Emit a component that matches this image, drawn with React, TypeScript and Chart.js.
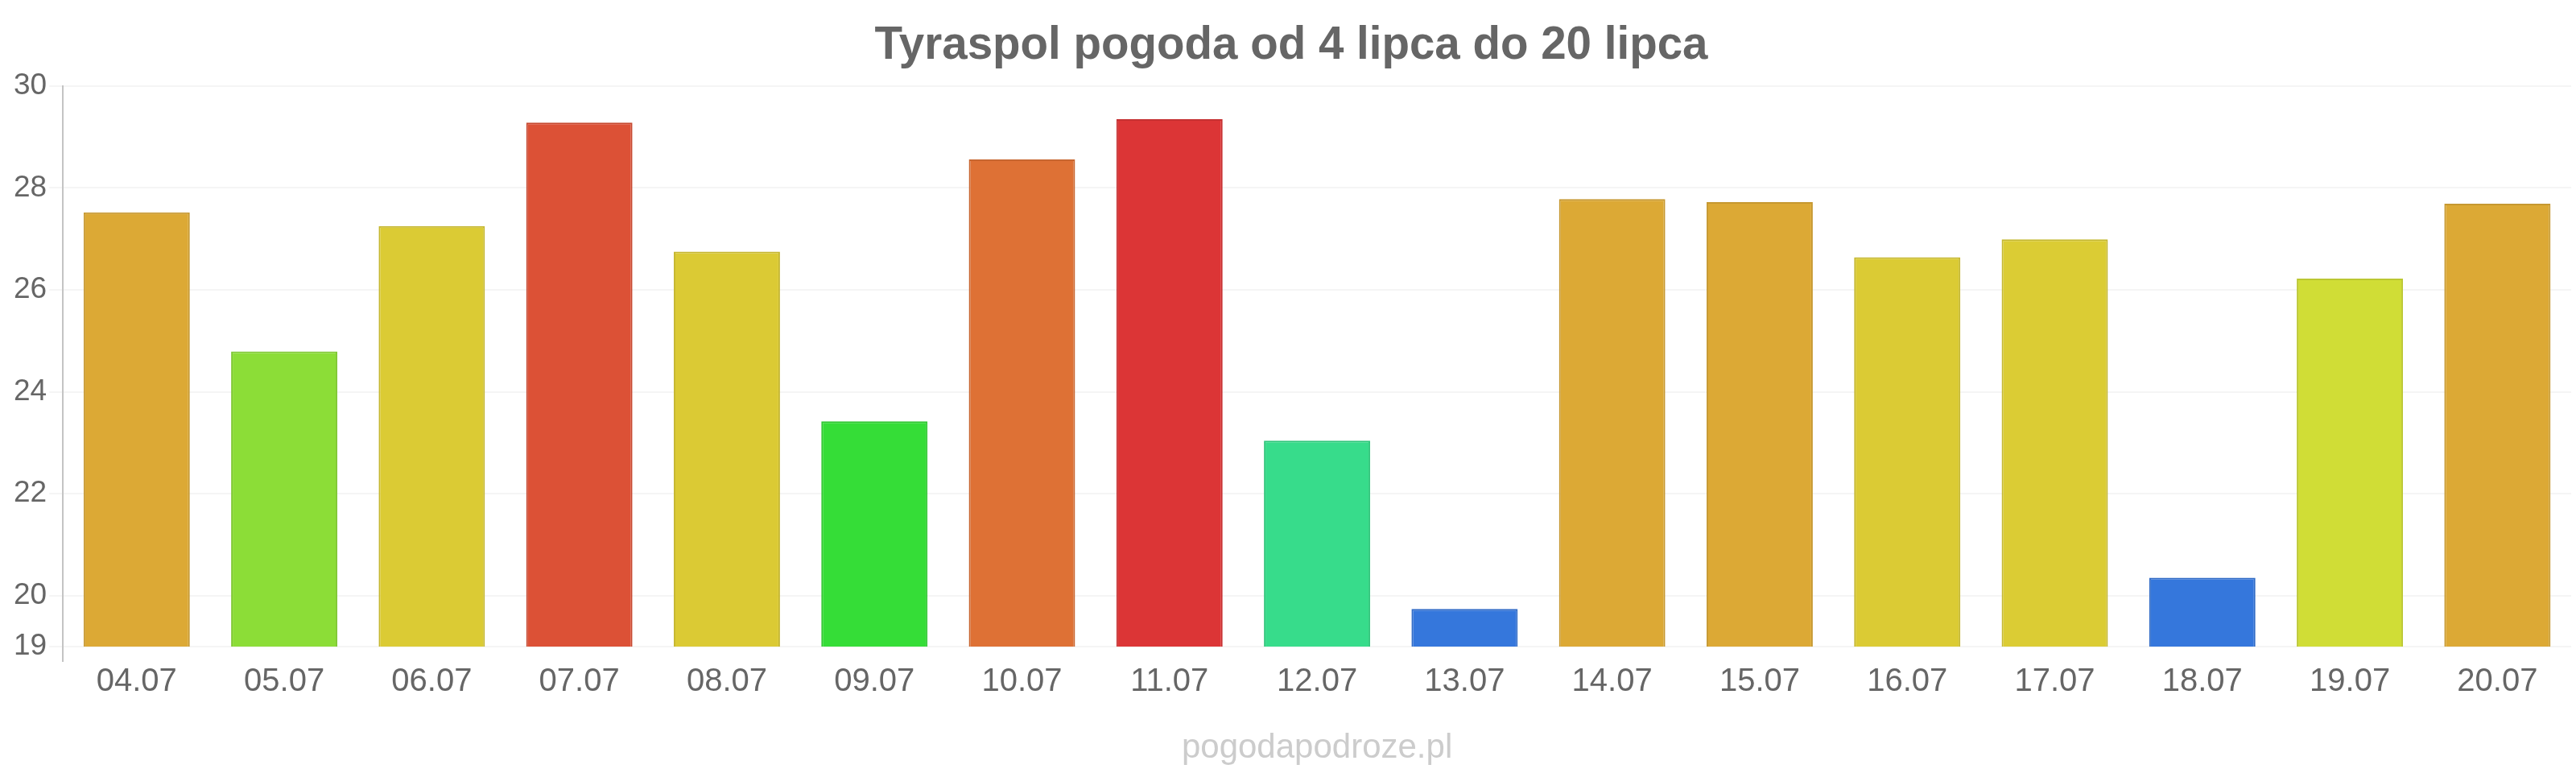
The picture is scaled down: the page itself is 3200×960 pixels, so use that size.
import React, { useEffect, useRef } from "react";
import { Chart, registerables } from "chart.js";

Chart.register(...registerables);

const categories = ["04.07", "05.07", "06.07", "07.07", "08.07", "09.07", "10.07", "11.07", "12.07", "13.07", "14.07", "15.07", "16.07", "17.07", "18.07", "19.07", "20.07"];
const temperatures = [27.52, 24.79, 27.25, 29.28, 26.75, 23.42, 28.56, 29.35, 23.04, 19.74, 27.78, 27.72, 26.64, 26.99, 20.35, 26.22, 27.69];
const barColors = ["#DCA935", "#8CDD37", "#DBCB34", "#DC5136", "#DBCA34", "#35DD37", "#DE7135", "#DC3536", "#37DC8B", "#3577DC", "#DCA935", "#DCA935", "#DBCB34", "#DBCC34", "#3577DC", "#D0DD36", "#DCA935"];
const yTicks = [19, 20, 22, 24, 26, 28, 30];
const titleText = "Tyraspol pogoda od 4 lipca do 20 lipca";
const watermarkText = "pogodapodroze.pl";

const FONT = "'Liberation Sans', Arial, sans-serif";

function darken(hex: string, f: number): string {
  const n = parseInt(hex.slice(1), 16);
  const r = Math.round(((n >> 16) & 255) * f);
  const g = Math.round(((n >> 8) & 255) * f);
  const b = Math.round((n & 255) * f);
  return `rgb(${r},${g},${b})`;
}

const watermarkPlugin = {
  id: "watermark",
  afterDraw(chart: any) {
    const { ctx, chartArea } = chart;
    ctx.save();
    ctx.font = `42px ${FONT}`;
    ctx.fillStyle = "#cccccc";
    ctx.textAlign = "center";
    ctx.textBaseline = "alphabetic";
    ctx.fillText(watermarkText, (chartArea.left + chartArea.right) / 2, 941);
    ctx.restore();
  },
};

export default function App() {
  const ref = useRef<HTMLCanvasElement | null>(null);
  useEffect(() => {
    if (!ref.current) return;
    const chart = new Chart(ref.current, {
      type: "bar",
      data: {
        labels: categories,
        datasets: [
          {
            data: temperatures,
            backgroundColor: barColors,
            borderColor: barColors.map((c) => darken(c, 0.9)),
            borderWidth: 2,
          },
        ],
      },
      options: {
        responsive: false,
        animation: false,
        devicePixelRatio: 1,
        layout: { padding: { left: 14, right: 6, top: 0, bottom: 88 } },
        plugins: {
          legend: { display: false },
          tooltip: { enabled: false },
          title: {
            display: true,
            text: titleText,
            color: "#666666",
            font: { family: FONT, size: 56.5, weight: "bold" },
            padding: { top: 24, bottom: 15 },
          },
        },
        scales: {
          x: {
            grid: {
              display: true,
              drawOnChartArea: false,
              tickLength: 19,
              lineWidth: 2,
              color: (ctx: any) => (ctx.index === 0 ? "#c4c4c4" : "rgba(0,0,0,0)"),
            },
            border: { display: false },
            ticks: {
              color: "#666666",
              font: { family: FONT, size: 40 },
              padding: 1,
              maxRotation: 0,
            },
          },
          y: {
            min: 19,
            max: 30,
            afterBuildTicks: (axis: any) => {
              axis.ticks = yTicks.map((v) => ({ value: v }));
            },
            grid: {
              color: "rgba(0,0,0,0.04)",
              lineWidth: 2,
              tickLength: 17,
            },
            border: { display: true, color: "#c4c4c4", width: 2 },
            ticks: {
              color: "#666666",
              font: { family: FONT, size: 37 },
              padding: 3,
            },
          },
        },
      },
      plugins: [watermarkPlugin],
    });
    return () => chart.destroy();
  }, []);
  return (
    <div style={{ position: "fixed", left: 0, top: 0, width: 3200, height: 960, background: "#ffffff" }}>
      <canvas ref={ref} width={3200} height={960} style={{ width: 3200, height: 960, display: "block" }} />
    </div>
  );
}
